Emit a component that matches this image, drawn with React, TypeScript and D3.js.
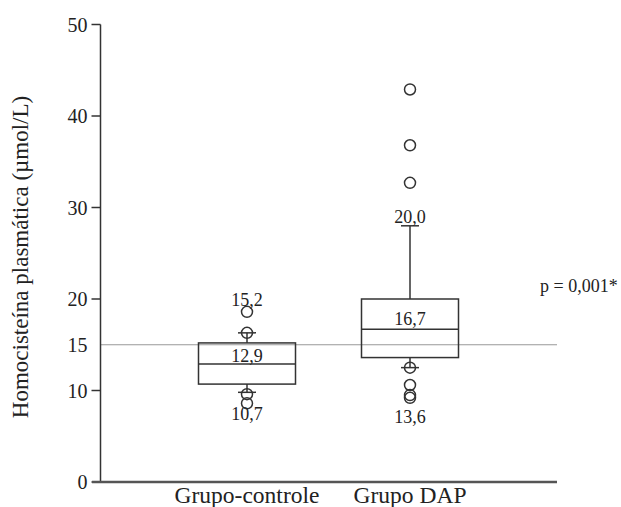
import React from 'react'
import * as d3 from 'd3'

const groups = ['Grupo-controle', 'Grupo DAP']
const q1 = [10.7, 13.6]
const median = [12.9, 16.7]
const q3 = [15.2, 20.0]
const whiskerLow = [9.8, 12.5]
const whiskerHigh = [16.3, 28.0]
const outliers = [
  [16.3, 18.6, 9.6, 8.6],
  [42.9, 36.8, 32.7, 12.5, 10.6, 9.5, 9.2]
]
// box labels: text and the value where its baseline sits
const labelText = [
  ['15,2', '12,9', '10,7'],
  ['20,0', '16,7', '13,6']
]
const labelAt = [
  [19.2, 13.1, 6.8],
  [28.3, 17.2, 6.45]
]
const yTicks = [0, 10, 20, 30, 40, 50]
const refValue = 15
const pText = 'p = 0,001*'

function App() {
  const width = 621
  const height = 507
  const axisX = 100.5
  const xEnd = 557
  const font = '"Liberation Serif", "Times New Roman", serif'

  const y = d3.scaleLinear().domain([0, 50]).range([482, 24.5])
  const x = d3.scalePoint().domain(groups).range([247, 410])
  const boxW = 97
  const capW = 18

  return (
    <svg width={width} height={height} style={{ position: 'absolute', left: 0, top: 0 }}>
      <rect width={width} height={height} fill="#fff" />
      {/* reference line */}
      <line x1={axisX} x2={xEnd} y1={y(refValue)} y2={y(refValue)} stroke="#999" strokeWidth={1} />

      {/* y axis */}
      <line x1={axisX} x2={axisX} y1={y(50)} y2={y(0)} stroke="#333" strokeWidth={1.5} />
      {yTicks.map(t => (
        <g key={t}>
          <line x1={axisX - 9} x2={axisX} y1={y(t)} y2={y(t)} stroke="#333" strokeWidth={1.5} />
          <text x={axisX - 13} y={y(t)} dy="0.35em" textAnchor="end" fontFamily={font} fontSize={20} fill="#222">
            {t}
          </text>
        </g>
      ))}
      <text x={axisX - 13} y={y(refValue)} dy="0.35em" textAnchor="end" fontFamily={font} fontSize={20} fill="#222">
        {refValue}
      </text>

      {/* x axis */}
      <line x1={92} x2={xEnd} y1={y(0)} y2={y(0)} stroke="#555" strokeWidth={2.5} />
      {groups.map(g => (
        <text key={g} x={x(g)} y={503} textAnchor="middle" fontFamily={font} fontSize={23.5} fill="#222">
          {g}
        </text>
      ))}

      <text
        transform={`translate(28, 257) rotate(-90)`}
        textAnchor="middle"
        fontFamily={font}
        fontSize={23}
        fill="#222"
      >
        Homocisteína plasmática (µmol/L)
      </text>

      {groups.map((g, i) => {
        const cx = x(g) as number
        return (
          <g key={g} stroke="#333" strokeWidth={1.5} fill="none">
            <line x1={cx} x2={cx} y1={y(q3[i])} y2={y(whiskerHigh[i])} />
            <line x1={cx - capW / 2} x2={cx + capW / 2} y1={y(whiskerHigh[i])} y2={y(whiskerHigh[i])} />
            <line x1={cx} x2={cx} y1={y(q1[i])} y2={y(whiskerLow[i])} />
            <line x1={cx - capW / 2} x2={cx + capW / 2} y1={y(whiskerLow[i])} y2={y(whiskerLow[i])} />
            <rect x={cx - boxW / 2} y={y(q3[i])} width={boxW} height={y(q1[i]) - y(q3[i])} />
            <line x1={cx - boxW / 2} x2={cx + boxW / 2} y1={y(median[i])} y2={y(median[i])} />
            {outliers[i].map((o, j) => (
              <circle key={j} cx={cx} cy={y(o)} r={5.5} />
            ))}
            {labelText[i].map((t, j) => (
              <text
                key={t}
                x={cx}
                y={y(labelAt[i][j])}
                textAnchor="middle"
                fontFamily={font}
                fontSize={18}
                fill="#222"
                stroke="none"
              >
                {t}
              </text>
            ))}
          </g>
        )
      })}

      <text x={540} y={292} fontFamily={font} fontSize={18} fill="#222">
        {pText}
      </text>
    </svg>
  )
}

export default App
